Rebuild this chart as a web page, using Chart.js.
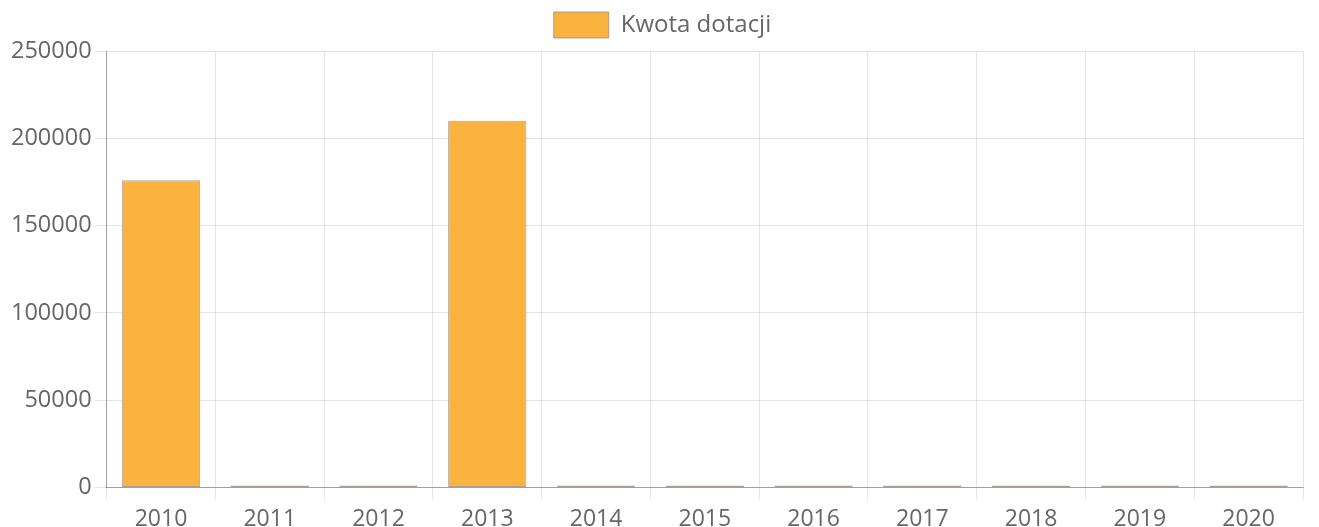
<!DOCTYPE html>
<html>
<head>
<meta charset="utf-8">
<script src="https://cdn.jsdelivr.net/npm/chart.js@4/dist/chart.umd.min.js"></script>
<style>
html,body{margin:0;padding:0;background:#fff;}
#wrap{width:1319px;height:527px;position:relative;}
</style>
</head>
<body>
<div id="wrap"><canvas id="c"></canvas></div>
<script>
const categories = ["2010","2011","2012","2013","2014","2015","2016","2017","2018","2019","2020"];
const kwotaDotacji = [176000, 0, 0, 210000, 0, 0, 0, 0, 0, 0, 0];
const seriesLabel = "Kwota dotacji";
const yTicksMax = 250000;
const yTicksStep = 50000;

Chart.defaults.font.family = "'Open Sans', sans-serif";
Chart.defaults.font.size = 23;
Chart.defaults.color = "#666";

const legendSpacing = {
  id: 'legendSpacing',
  beforeInit(chart) {
    const origFit = chart.legend.fit;
    chart.legend.fit = function() {
      origFit.call(this);
      this.height += 3;
    };
  },
  afterLayout(chart) {
    chart.legend.left += 7;
    chart.legend.right += 7;
  }
};

new Chart(document.getElementById('c'), {
  type: 'bar',
  data: {
    labels: categories,
    datasets: [{
      label: seriesLabel,
      data: kwotaDotacji,
      backgroundColor: '#fbb340',
      borderColor: 'rgba(150,140,130,0.8)',
      borderWidth: 1,
      borderSkipped: false,
      minBarLength: 2
    }]
  },
  options: {
    responsive: true,
    maintainAspectRatio: false,
    animation: false,
    layout: {padding: {left: 8, right: 16, top: 0, bottom: -12}},
    plugins: {
      legend: {
        labels: {boxWidth: 55, boxHeight: 26, padding: 12, color: '#666', font: {size: 24}}
      },
      tooltip: {enabled: false}
    },
    scales: {
      x: {
        grid: {color: 'rgba(0,0,0,0.1)', tickLength: 12, offset: true},
        border: {color: 'rgba(0,0,0,0.3)'},
        ticks: {color: '#666', font: {size: 23}, padding: 6}
      },
      y: {
        min: 0, max: yTicksMax,
        grid: {color: 'rgba(0,0,0,0.1)', tickLength: 12},
        border: {color: 'rgba(0,0,0,0.3)'},
        ticks: {stepSize: yTicksStep, color: '#666', font: {size: 23.5}, padding: 3,
          callback: function(v){ return String(v); }}
      }
    }
  },
  plugins: [legendSpacing]
});
</script>
</body>
</html>
